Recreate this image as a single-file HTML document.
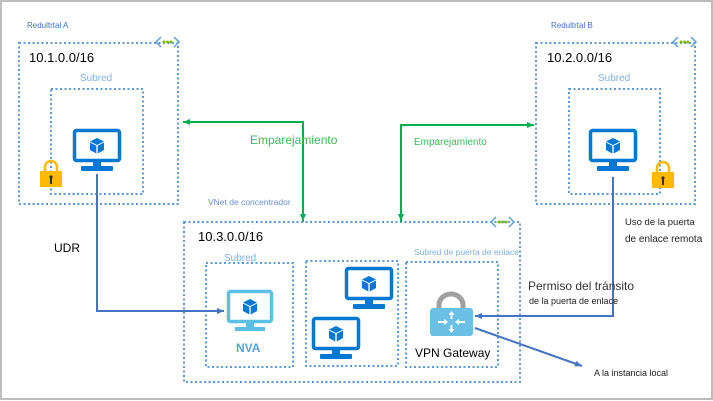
<!DOCTYPE html>
<html><head><meta charset="utf-8"><style>
html,body{margin:0;padding:0;background:#fff}
svg{display:block}
text{font-family:"Liberation Sans",sans-serif}
</style></head><body>
<svg width="713" height="401" viewBox="0 0 713 401" xmlns="http://www.w3.org/2000/svg">
<defs>
<g id="mon">
<rect x="1.5" y="1.5" width="45" height="30" rx="2" fill="#fff" stroke="#0078d4" stroke-width="3.5"/>
<rect x="20" y="32" width="8" height="6" fill="#0078d4"/>
<rect x="8" y="37" width="32" height="5" rx="1" fill="#0078d4"/>
<polygon points="24,9 31,12.5 24,16 17,12.5" fill="#0078d4"/>
<polygon points="17,13.5 23.3,16.8 23.3,24.5 17,21" fill="#0078d4"/>
<polygon points="31,13.5 24.7,16.8 24.7,24.5 31,21" fill="#0078d4"/>
</g>
<g id="lock">
<path d="M6,12 V8 a6,6 0 0 1 12,0 V12" fill="none" stroke="#ffb900" stroke-width="2.5"/>
<rect x="1" y="12" width="22" height="16" fill="#ffb900"/>
<rect x="11" y="18" width="2" height="7" fill="#333"/>
<circle cx="12" cy="18" r="1.6" fill="#333"/>
</g>
<g id="vnet">
<path d="M6,2 L1,7 L6,12 M19,2 L24,7 L19,12" fill="none" stroke="#5ea0dc" stroke-width="1.5"/>
<circle cx="9" cy="7" r="1.5" fill="#7fba00"/><circle cx="12.5" cy="7" r="1.5" fill="#7fba00"/><circle cx="16" cy="7" r="1.5" fill="#7fba00"/>
</g>
<marker id="ag" markerWidth="8" markerHeight="8" refX="7" refY="4" orient="auto" markerUnits="userSpaceOnUse"><path d="M0,1 L7,4 L0,7z" fill="#00b050"/></marker>
<marker id="ab" markerWidth="8" markerHeight="8" refX="7" refY="4" orient="auto" markerUnits="userSpaceOnUse"><path d="M0,1 L7,4 L0,7z" fill="#4472c4"/></marker>
</defs>
<rect x="1" y="1" width="711" height="398" fill="none" stroke="#bdbdbd" stroke-width="2"/>
<g fill="none" stroke="#5b9bd5" stroke-width="2" stroke-dasharray="2,2.5">
<rect x="19" y="43" width="159" height="161"/>
<rect x="51" y="89" width="92" height="105"/>
<rect x="536" y="43" width="159" height="161"/>
<rect x="569" y="89" width="91" height="105"/>
<rect x="184" y="222" width="336" height="160"/>
<rect x="206" y="263" width="87" height="104"/>
<rect x="306" y="261" width="92" height="105"/>
<rect x="406" y="262" width="92" height="105"/>
</g>
<use href="#vnet" x="155" y="35"/>
<use href="#vnet" x="672" y="35"/>
<use href="#vnet" x="490" y="215"/>
<text x="27" y="28" font-size="8" fill="#4472c4">Redultrtal A</text>
<text x="551" y="28" font-size="8" fill="#4472c4">Redultrtal B</text>
<text x="29" y="62" font-size="13" fill="#000">10.1.0.0/16</text>
<text x="547" y="62" font-size="13" fill="#000">10.2.0.0/16</text>
<text x="198" y="241" font-size="13" fill="#000">10.3.0.0/16</text>
<text x="80" y="81" font-size="10" fill="#7fb0e0">Subred</text>
<text x="598" y="81" font-size="10" fill="#7fb0e0">Subred</text>
<text x="224" y="261" font-size="10" fill="#7fb0e0">Subred</text>
<text x="414" y="255" font-size="8.5" fill="#7fb0e0">Subred de puerta de enlace</text>
<text x="208" y="205" font-size="8.5" fill="#6b8fd0">VNet de concentrador</text>
<use href="#mon" x="73" y="129"/>
<use href="#mon" x="589" y="129"/>
<use href="#mon" x="345" y="267"/>
<use href="#mon" x="312" y="317"/>
<g transform="translate(227,290)">
<rect x="1.5" y="1.5" width="43" height="30" rx="2" fill="#fff" stroke="#5bc0e6" stroke-width="3.5"/>
<rect x="19" y="32" width="8" height="6" fill="#5bc0e6"/>
<rect x="8" y="37" width="30" height="4" fill="#5bc0e6"/>
<polygon points="23,9 30,12.5 23,16 16,12.5" fill="#0078d4"/>
<polygon points="16,13.5 22.3,16.8 22.3,24.5 16,21" fill="#0078d4"/>
<polygon points="30,13.5 23.7,16.8 23.7,24.5 30,21" fill="#0078d4"/>
</g>
<text x="236" y="352" font-size="12" font-weight="bold" fill="#5ba0d8">NVA</text>
<use href="#lock" x="39" y="159"/>
<use href="#lock" x="651" y="160"/>
<g transform="translate(430,293)">
<path d="M9,15 V12 a12,11 0 0 1 24,0 V15" fill="none" stroke="#a0a0a0" stroke-width="5"/>
<rect x="0" y="15" width="43" height="28" rx="3" fill="#6cc0e5"/>
<g stroke="#fff" stroke-width="2" fill="#fff">
<line x1="21.5" y1="20" x2="21.5" y2="26"/><line x1="21.5" y1="32" x2="21.5" y2="38"/>
<line x1="8" y1="29" x2="15" y2="29"/><line x1="28" y1="29" x2="35" y2="29"/>
</g>
<g fill="#fff">
<path d="M21.5,18 l-3,4 h6z"/><path d="M21.5,40 l-3,-4 h6z"/>
<path d="M18,29 l-4,-3 v6z"/><path d="M25,29 l4,-3 v6z"/>
</g>
</g>
<text x="415" y="357" font-size="12" fill="#000">VPN Gateway</text>
<g fill="none" stroke="#00b050" stroke-width="2">
<polyline points="303,222 303,122 183,122" marker-end="url(#ag)"/>
<polyline points="303,122 303,221" marker-end="url(#ag)"/>
<polyline points="401,222 401,125 534,125" marker-end="url(#ag)"/>
<line x1="401" y1="200" x2="401" y2="221" marker-end="url(#ag)"/>
</g>
<text x="250" y="144" font-size="12" fill="#3cba5a">Emparejamiento</text>
<text x="414" y="145" font-size="10" fill="#3cba5a">Emparejamiento</text>
<g fill="none" stroke="#4472c4" stroke-width="2">
<polyline points="97,174 97,311 224,311" marker-end="url(#ab)"/>
<polyline points="613,177 613,316 475,316" marker-end="url(#ab)"/>
<line x1="475" y1="328" x2="582" y2="366" marker-end="url(#ab)"/>
</g>
<text x="54" y="252" font-size="12" fill="#000">UDR</text>
<text x="625" y="225" font-size="9.5" fill="#222">Uso de la puerta</text>
<text x="625" y="242" font-size="10" fill="#222">de enlace remota</text>
<text x="528" y="290" font-size="12" fill="#333">Permiso del tránsito</text>
<text x="529" y="304" font-size="9" fill="#222">de la puerta de enlace</text>
<text x="594" y="376" font-size="9" fill="#222">A la instancia local</text>
</svg>
</body></html>
